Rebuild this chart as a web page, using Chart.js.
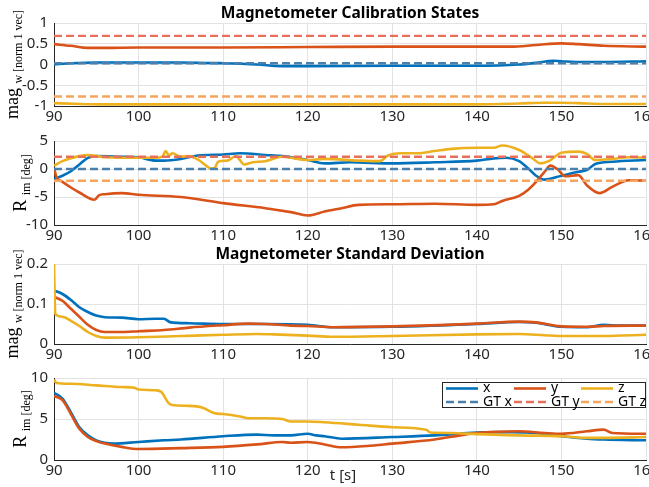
<!DOCTYPE html>
<html>
<head>
<meta charset="utf-8">
<script src="https://cdn.jsdelivr.net/npm/chart.js@4.4.0/dist/chart.umd.min.js"></script>
<style>
  body { margin: 0; background: #fff; }
  #fig { position: relative; width: 649px; height: 487px; }
  #fig canvas { position: absolute; left: 0; top: 0; }
</style>
</head>
<body>
<div id="fig">
  <canvas id="calMag" width="649" height="487"></canvas>
  <canvas id="calRot" width="649" height="487"></canvas>
  <canvas id="stdMag" width="649" height="487"></canvas>
  <canvas id="stdRot" width="649" height="487"></canvas>
</div>
<script>
// time axis [s]
const tTicks = [90, 100, 110, 120, 130, 140, 150, 160];
const magTicks = [-1, -0.5, 0, 0.5, 1];
const rotTicks = [-10, -5, 0, 5];
const magStdTicks = [0, 0.1, 0.2];
const rotStdTicks = [0, 5, 10];

// calibration state: magnetic field direction (world frame)
const magXT = [90, 92, 95, 100, 105, 110, 114, 117, 120, 130, 140, 145, 147, 149, 150, 152, 155, 160];
const magX  = [0.0, 0.03, 0.05, 0.05, 0.05, 0.03, 0.0, -0.04, -0.04, -0.03, -0.03, 0.0, 0.04, 0.09, 0.08, 0.06, 0.06, 0.08];
const magYT = [90, 92, 94, 96, 100, 110, 120, 130, 140, 144, 147, 150, 152, 155, 160];
const magY  = [0.49, 0.45, 0.4, 0.4, 0.41, 0.41, 0.42, 0.43, 0.43, 0.43, 0.47, 0.51, 0.49, 0.45, 0.43];
const magZT = [90, 93, 96, 110, 120, 140, 145, 148, 150, 152, 155, 160];
const magZ  = [-0.93, -0.95, -0.96, -0.96, -0.96, -0.96, -0.94, -0.92, -0.92, -0.93, -0.95, -0.95];
const magGT = [0.03, 0.69, -0.77];

// calibration state: IMU-to-magnetometer rotation [deg]
const rotXT = [90, 91, 92, 93, 94, 95, 98, 100, 102, 103, 105, 107, 110, 112, 115, 117, 120, 122, 125, 130, 135, 140, 142, 143.5, 145, 146, 147, 148, 150, 152, 153, 154, 156, 160];
const rotX  = [-1.8, -1.2, -0.4, 0.8, 2.0, 2.3, 2.2, 2.1, 1.5, 1.5, 1.8, 2.4, 2.6, 2.8, 2.5, 2.3, 1.6, 1.0, 1.2, 1.0, 1.2, 1.5, 1.9, 2.0, 1.4, 0.2, -1.2, -1.9, -1.2, -0.5, -0.2, 0.9, 1.3, 1.6];
const rotYT = [90, 90.3, 91, 92, 93, 94.8, 95.3, 96, 98, 100, 105, 110, 115, 118, 120, 122, 124, 126, 130, 135, 140, 142, 143, 145, 146, 147, 148, 148.7, 149.5, 150.5, 152, 153, 154.5, 156, 158, 160];
const rotY  = [0.2, -1.5, -2.3, -3.3, -4.2, -5.5, -4.7, -4.5, -4.3, -4.6, -5.0, -6.1, -7.0, -7.7, -8.3, -7.6, -7.0, -6.4, -6.3, -6.2, -6.4, -6.3, -5.7, -4.8, -3.8, -2.3, -0.5, 0.6, 0.0, -1.3, -1.1, -2.9, -4.3, -3.2, -2.0, -2.1];
const rotZT = [90, 91, 92, 93, 94, 96, 100, 102, 102.8, 103.2, 103.6, 104, 105, 106, 107, 108, 108.5, 109, 109.4, 110.5, 111.5, 112.5, 113.5, 115, 117, 120, 122, 126, 128.5, 129.5, 131, 133, 135, 137, 140, 142, 143, 145, 146.5, 147.5, 148.5, 150, 152, 153, 154, 156, 158, 160];
const rotZ  = [0.6, 1.4, 1.9, 2.3, 2.5, 2.1, 2.0, 2.0, 2.2, 3.2, 2.4, 2.8, 2.2, 2.3, 1.7, 0.6, 0.1, 0.2, 1.3, 1.5, 2.3, 0.8, 1.2, 1.4, 2.2, 1.6, 1.8, 1.5, 1.4, 2.4, 2.8, 2.8, 3.2, 3.6, 3.8, 3.8, 4.2, 3.4, 2.0, 1.0, 1.4, 2.9, 3.1, 2.7, 1.6, 1.8, 2.1, 2.0];
const rotGT = [0, 2.2, -2.1];

// standard deviation: magnetic field direction
const sdMagXT = [90, 91, 92, 93, 94, 95, 96, 98, 100, 102, 103, 103.8, 106, 110, 115, 120, 123, 130, 135, 140, 145, 147, 150, 153, 155, 157, 160];
const sdMagX  = [0.134, 0.125, 0.11, 0.092, 0.08, 0.071, 0.067, 0.066, 0.062, 0.063, 0.063, 0.054, 0.052, 0.05, 0.05, 0.048, 0.042, 0.043, 0.046, 0.05, 0.055, 0.053, 0.043, 0.042, 0.048, 0.046, 0.046];
const sdMagYT = [90, 91, 92, 93, 94, 95, 96, 98, 100, 103, 106, 110, 113, 115, 118, 120, 123, 130, 140, 145, 147, 150, 153, 155, 160];
const sdMagY  = [0.118, 0.108, 0.088, 0.068, 0.048, 0.035, 0.03, 0.03, 0.032, 0.035, 0.041, 0.047, 0.051, 0.05, 0.046, 0.045, 0.042, 0.044, 0.051, 0.056, 0.054, 0.044, 0.043, 0.045, 0.046];
const sdMagZT = [90, 90.15, 91, 92, 93, 94, 95, 96, 100, 105, 110, 114, 116, 120, 123, 130, 140, 145, 148, 150, 155, 160];
const sdMagZ  = [0.2, 0.075, 0.068, 0.058, 0.045, 0.03, 0.02, 0.016, 0.017, 0.02, 0.023, 0.025, 0.024, 0.021, 0.018, 0.02, 0.024, 0.025, 0.022, 0.02, 0.02, 0.023];

// standard deviation: rotation [deg]
const sdRotXT = [90, 91, 92, 93, 94, 95, 96, 97, 100, 103, 105, 110, 114, 116, 118, 120, 121, 122, 124, 130, 135, 140, 144, 147, 150, 153, 155, 160];
const sdRotX  = [8.2, 7.5, 5.8, 4.0, 3.0, 2.4, 2.1, 2.0, 2.2, 2.4, 2.5, 2.9, 3.1, 3.0, 3.0, 3.2, 3.0, 2.9, 2.6, 2.8, 3.0, 3.35, 3.4, 3.3, 2.9, 2.6, 2.5, 2.4];
const sdRotYT = [90, 91, 92, 93, 94, 95, 96, 98, 100, 105, 110, 114, 117, 118, 120, 122, 124, 127, 130, 135, 138, 140, 145, 148, 150, 153, 155, 156, 160];
const sdRotY  = [7.8, 7.3, 5.6, 3.8, 2.8, 2.3, 2.0, 1.6, 1.35, 1.45, 1.6, 1.9, 2.2, 2.1, 2.2, 1.9, 1.55, 1.7, 2.0, 2.5, 3.0, 3.3, 3.5, 3.3, 3.2, 3.5, 3.7, 3.3, 3.2];
const sdRotZT = [90, 90.3, 92, 95, 98, 99.5, 100, 102, 102.7, 103.5, 104, 106, 107.5, 109, 110, 112, 113, 115, 117, 118, 120, 122, 126, 130, 134, 134.5, 137, 140, 145, 150, 153, 155, 160];
const sdRotZ  = [9.8, 9.4, 9.3, 9.1, 8.9, 8.8, 8.6, 8.5, 8.3, 7.0, 6.7, 6.6, 6.4, 5.7, 5.6, 5.3, 5.1, 5.1, 5.0, 4.7, 4.7, 4.6, 4.3, 4.0, 3.7, 3.35, 3.3, 3.15, 3.0, 2.9, 2.7, 2.7, 2.8];

const legendLabels = ['x', 'y', 'z', 'GT x', 'GT y', 'GT z'];

const COL = { x: '#0072bd', y: '#d95319', z: '#edb120', gtX: '#4a80ad', gtY: '#e8705a', gtZ: '#f5a55e' };
const FONT = '"Noto Sans", "Open Sans", sans-serif';
const SERIF = '"Liberation Serif", "DejaVu Serif", serif';
const H = 487;
const X_AXIS_H = 22;

function line(t, v, color, order) {
  return {
    data: t.map((x, i) => ({ x, y: v[i] })),
    borderColor: color, borderWidth: 2.6, pointRadius: 0,
    cubicInterpolationMode: 'monotone', fill: false, order
  };
}

function gtLine(v, color) {
  const t0 = tTicks[0], t1 = tTicks[tTicks.length - 1];
  return {
    data: [{ x: t0, y: v }, { x: t1, y: v }],
    borderColor: color, borderWidth: 2.4, borderDash: [8, 4],
    pointRadius: 0, fill: false, order: 0
  };
}

// titles, axis labels with subscripts, legend box
const annotate = {
  id: 'annotate',
  afterDraw(chart, args, o) {
    const { ctx, chartArea: a } = chart;
    ctx.save();
    ctx.fillStyle = '#000';
    if (o.title) {
      ctx.font = 'bold 15.5px ' + FONT;
      ctx.textAlign = 'center';
      ctx.textBaseline = 'alphabetic';
      ctx.fillText(o.title, (a.left + a.right) / 2, a.top - 5);
    }
    if (o.ylabel) {
      const [main, sub, bx] = o.ylabel;
      ctx.translate(bx, (a.top + a.bottom) / 2);
      ctx.rotate(-Math.PI / 2);
      ctx.textAlign = 'left';
      ctx.textBaseline = 'alphabetic';
      ctx.font = '18px ' + SERIF;
      const wm = ctx.measureText(main + ' ').width;
      ctx.font = '12px ' + SERIF;
      const ws = ctx.measureText(sub).width;
      const x0 = -(wm + ws) / 2;
      ctx.font = '18px ' + SERIF;
      ctx.fillText(main, x0, 0);
      ctx.font = '12px ' + SERIF;
      ctx.fillText(sub, x0 + wm, 4);
      ctx.setTransform(1, 0, 0, 1, 0, 0);
    }
    if (o.xlabel) {
      ctx.font = '15px ' + FONT;
      ctx.textAlign = 'center';
      ctx.fillStyle = '#262626';
      ctx.fillText(o.xlabel, 343, 480);
    }
    if (o.legend) {
      const bx = 442, by = 382, bw = a.right - bx, bh = 26;
      ctx.fillStyle = '#fff';
      ctx.fillRect(bx, by, bw, bh);
      ctx.strokeStyle = '#262626';
      ctx.lineWidth = 1;
      ctx.strokeRect(bx + 0.5, by + 0.5, bw - 1, bh - 1);
      const cols = [446, 514, 581];
      const styles = [COL.x, COL.y, COL.z, COL.gtX, COL.gtY, COL.gtZ];
      ctx.font = '14px ' + FONT;
      ctx.textAlign = 'left';
      ctx.textBaseline = 'middle';
      o.legend.forEach((lab, i) => {
        const cx = cols[i % 3], cy = by + 6.5 + Math.floor(i / 3) * 13.5;
        ctx.strokeStyle = styles[i];
        ctx.lineWidth = 2.6;
        ctx.setLineDash(i < 3 ? [] : [8, 4]);
        ctx.beginPath();
        ctx.moveTo(cx, cy);
        ctx.lineTo(cx + 32, cy);
        ctx.stroke();
        ctx.setLineDash([]);
        ctx.fillStyle = '#000';
        ctx.fillText(lab, cx + 37, cy);
      });
    }
    ctx.restore();
  }
};

function panel(id, top, bottom, yMin, yMax, yTicks, datasets, anno) {
  return new Chart(document.getElementById(id), {
    type: 'line',
    data: { datasets },
    plugins: [annotate],
    options: {
      responsive: false,
      animation: false,
      events: [],
      layout: { padding: { top, bottom: H - bottom - X_AXIS_H, left: 0, right: 3 } },
      plugins: { legend: { display: false }, tooltip: { enabled: false }, annotate: anno },
      scales: {
        x: {
          type: 'linear', min: tTicks[0], max: tTicks[tTicks.length - 1],
          afterBuildTicks: s => { s.ticks = tTicks.map(v => ({ value: v })); },
          afterFit: s => { s.height = X_AXIS_H; s.paddingLeft = 0; s.paddingRight = 0; },
          ticks: { color: '#262626', font: { family: FONT, size: 15 }, padding: 2, maxRotation: 0, autoSkip: false,
                   callback: v => String(v) },
          grid: { color: '#e2e2e2', drawTicks: false },
          border: { color: '#262626', width: 1 }
        },
        y: {
          type: 'linear', min: yMin, max: yMax,
          afterBuildTicks: s => { s.ticks = yTicks.map(v => ({ value: v })); },
          afterFit: s => { s.width = 54; s.paddingTop = 0; s.paddingBottom = 0; },
          ticks: { color: '#262626', font: { family: FONT, size: 15 }, padding: 6, autoSkip: false,
                   callback: v => String(+v.toFixed(3)) },
          grid: { color: '#e2e2e2', drawTicks: false },
          border: { color: '#262626', width: 1 }
        }
      }
    }
  });
}

panel('calMag', 23, 106, -1, 1, magTicks, [
  line(magXT, magX, COL.x, 3), line(magYT, magY, COL.y, 2), line(magZT, magZ, COL.z, 1),
  gtLine(magGT[0], COL.gtX), gtLine(magGT[1], COL.gtY), gtLine(magGT[2], COL.gtZ)
], { title: 'Magnetometer Calibration States', ylabel: ['mag', 'w [norm 1 vec]', 18] });

panel('calRot', 141, 225, -10, 5, rotTicks, [
  line(rotXT, rotX, COL.x, 3), line(rotYT, rotY, COL.y, 2), line(rotZT, rotZ, COL.z, 1),
  gtLine(rotGT[0], COL.gtX), gtLine(rotGT[1], COL.gtY), gtLine(rotGT[2], COL.gtZ)
], { ylabel: ['R', 'im [deg]', 26] });

panel('stdMag', 264, 344, 0, 0.2, magStdTicks, [
  line(sdMagXT, sdMagX, COL.x, 3), line(sdMagYT, sdMagY, COL.y, 2), line(sdMagZT, sdMagZ, COL.z, 1)
], { title: 'Magnetometer Standard Deviation', ylabel: ['mag', 'w [norm 1 vec]', 18] });

panel('stdRot', 378, 460, 0, 10, rotStdTicks, [
  line(sdRotXT, sdRotX, COL.x, 3), line(sdRotYT, sdRotY, COL.y, 2), line(sdRotZT, sdRotZ, COL.z, 1)
], { ylabel: ['R', 'im [deg]', 26], xlabel: 't [s]', legend: legendLabels });
</script>
</body>
</html>
